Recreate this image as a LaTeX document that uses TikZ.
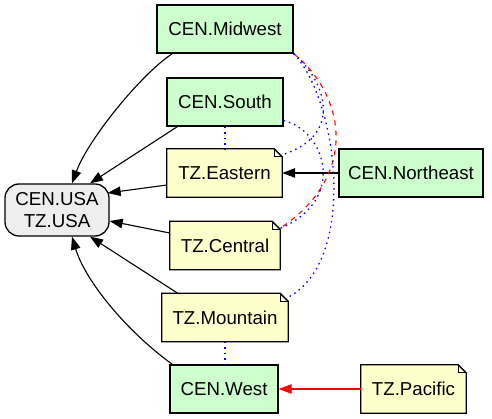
\documentclass[tikz,border=0pt]{standalone}
\usepackage{fontspec}
\setmainfont{Liberation Sans}
\usetikzlibrary{arrows.meta,backgrounds,calc}
\definecolor{cengreen}{HTML}{CCFFCC}
\definecolor{tzyellow}{HTML}{FFFFCC}
\definecolor{usagrey}{HTML}{EEEEEE}
\newcommand\lblfont{\fontsize{18.7pt}{22pt}\selectfont}
\newcommand\notebg[1]{%
  \draw[notestyle] (#1.south west) -- (#1.south east) -- ([yshift=-8pt]#1.north east)
    -- ([xshift=-8pt]#1.north east) -- (#1.north west) -- cycle;
  \draw[line width=1pt] ([xshift=-8pt]#1.north east) -- ([xshift=-8pt,yshift=-8pt]#1.north east)
    -- ([yshift=-8pt]#1.north east);}
\begin{document}
\begin{tikzpicture}[x=1pt,y=-1pt,
  cenbox/.style={draw=black, line width=1.3pt, fill=cengreen, minimum height=48pt, inner sep=0pt, font=\lblfont},
  tzbox/.style={minimum height=48pt, inner sep=0pt, font=\lblfont},
  notestyle/.style={draw=black, line width=1.3pt, fill=tzyellow, line join=miter},
  usabox/.style={draw=black, line width=1.3pt, fill=usagrey, rounded corners=14pt, minimum width=104pt, minimum height=52pt, inner sep=0pt, align=center, font=\lblfont},
  edge/.style={line width=1.1pt, -{Triangle[length=13pt,width=9.5pt]}},
  dotline/.style={blue, line width=1.3pt, dash pattern=on 1.5pt off 4pt},
  reddash/.style={red, line width=1.1pt, dash pattern=on 5pt off 5pt}]
\useasboundingbox (0,0) rectangle (492,419);
% nodes
\node[cenbox, minimum width=136pt] (mid) at (225,29) {CEN.Midwest};
\node[cenbox, minimum width=116pt] (south) at (225,102) {CEN.South};
\node[tzbox, minimum width=115pt] (east) at (224.5,173) {TZ.Eastern};
\node[cenbox, minimum width=144pt] (ne) at (411,173) {CEN.Northeast};
\node[tzbox, minimum width=110pt] (cent) at (225,245.5) {TZ.Central};
\node[tzbox, minimum width=126pt] (mount) at (225,317.5) {TZ.Mountain};
\node[cenbox, minimum width=108pt] (west) at (224,389) {CEN.West};
\node[tzbox, minimum width=105pt] (pac) at (413.5,389) {TZ.Pacific};
\node[usabox] (usa) at (57,210) {CEN.USA\\TZ.USA};
\begin{pgfonlayer}{background}
  \foreach \n in {east,cent,mount,pac} {\notebg{\n}}
\end{pgfonlayer}
% edges to USA
\draw[edge] ([xshift=16pt]mid.south west) .. controls (140,75) and (88,140) .. ([xshift=15pt]usa.north);
\draw[edge] ([xshift=11pt]south.south west) -- ([xshift=33pt]usa.north);
\draw[edge] ([yshift=-12pt]east.west) -- ([xshift=-2pt,yshift=17pt]usa.east);
\draw[edge] ([yshift=12.5pt]cent.west) -- ([yshift=-11pt]usa.east);
\draw[edge] ([xshift=16pt]mount.north west) -- ([xshift=33pt]usa.south);
\draw[edge] ([xshift=3pt]west.north west) .. controls (125,330) and (85,280) .. ([xshift=15pt]usa.south);
% other solid edges
\draw[edge] (ne) -- (east);
\draw[edge, red] (pac) -- (west);
% dotted / dashed relations
\draw[dotline] (south.south) -- (south.south |- east.north);
\draw[dotline] (mount.south) -- (mount.south |- west.north);
\draw[reddash] (mid.south east) .. controls (345,95) and (360,175) .. ([yshift=-7pt]cent.north east);
\draw[dotline] (mid.south east) .. controls (325,80) and (345,135) .. ([yshift=-6pt]east.north east);
\draw[dotline] (mid.south east) .. controls (338,100) and (358,260) .. ([yshift=-4pt]mount.north east);
\draw[dotline] ([yshift=6pt]south.south east) .. controls (325,130) and (348,200) .. ([yshift=-7pt]cent.north east);
\end{tikzpicture}
\end{document}
